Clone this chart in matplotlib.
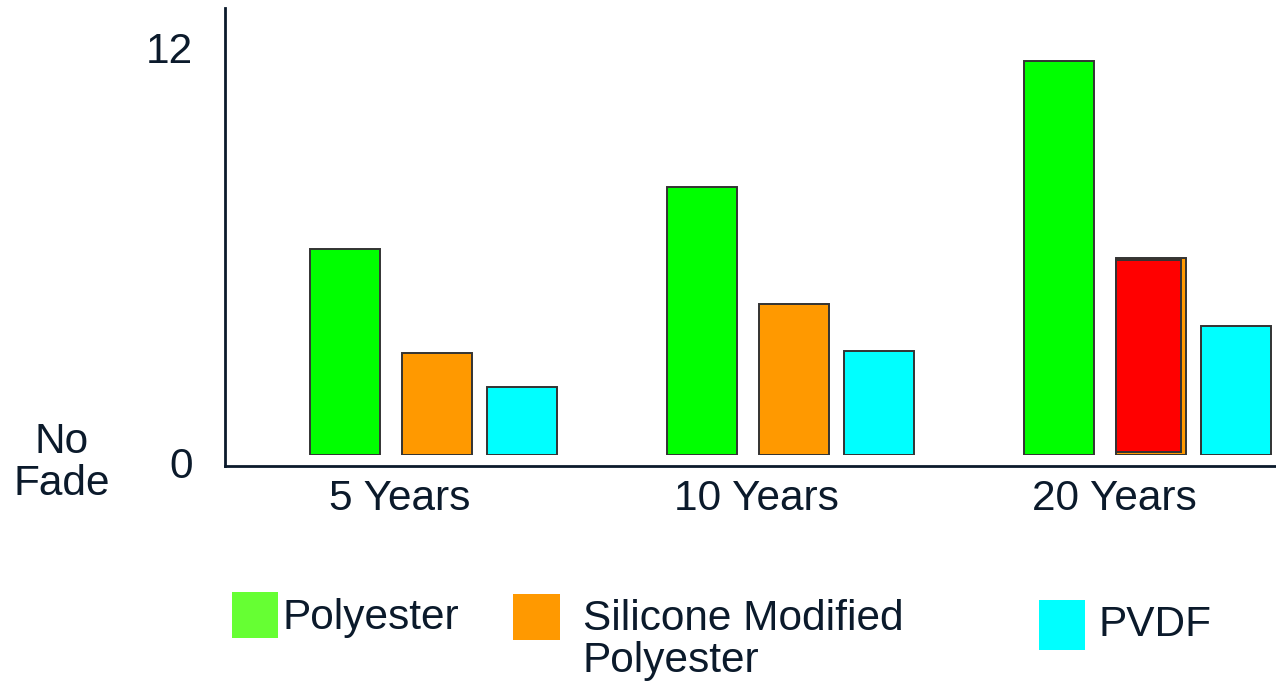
import matplotlib
matplotlib.use("Agg")
import matplotlib.pyplot as plt
from matplotlib.patches import Rectangle
from matplotlib.transforms import ScaledTranslation

# fade ratings after exposure, by coating type
periods = ["5 Years", "10 Years", "20 Years"]
polyester = [6.05, 7.9, 11.6]
silicone = [3.0, 4.45, 5.8]
pvdf = [2.0, 3.05, 3.8]
# red marker drawn over the 20 year silicone bar
red_bottom = 0.1
red_top = 5.75

series_names = ["Polyester", "Silicone Modified\nPolyester", "PVDF"]
bar_colors = ["#00ff00", "#ff9900", "#00ffff"]
key_colors = ["#66ff33", "#ff9900", "#00ffff"]

ink = "#0b1a2b"
fs = 30.5
plt.rcParams['font.family'] = ['Liberation Sans', 'DejaVu Sans']

W, H = 1276, 684
fig = plt.figure(figsize=(W / 100, H / 100), dpi=100)
ax = fig.add_axes([225 / W, (H - 466) / H, (W - 225) / W, (466 - 8) / H])

x = list(range(len(periods)))
width = 0.196
offsets = [-0.155, 0.105, 0.343]
for vals, off, col in zip([polyester, silicone, pvdf], offsets, bar_colors):
    ax.bar([i + off for i in x], vals, width=width, color=col,
           edgecolor="#333333", linewidth=1.4, zorder=2)

# red overlay on the last silicone bar
ax.bar(x[-1] + offsets[1] - width / 2, red_top - red_bottom, bottom=red_bottom,
       width=0.182, align="edge", color="#ff0000", edgecolor="#333333",
       linewidth=1.4, zorder=3)

# hide the bottom edges of the bars
ax.axhspan(-0.5, 0.0, color="white", zorder=4, linewidth=0)

ax.set_xlim(-0.49, 2.454)
ax.set_ylim(-0.32, 13.15)

for s in ["top", "right"]:
    ax.spines[s].set_visible(False)
for s in ["left", "bottom"]:
    ax.spines[s].set_color(ink)
    ax.spines[s].set_linewidth(2)
    ax.spines[s].set_zorder(5)

ax.set_yticks([0, 12])
ax.set_yticklabels(["0", "12"])
ax.tick_params(axis="y", length=0, pad=23, labelsize=fs, labelcolor=ink)
lab0 = ax.get_yticklabels()[0]
lab0.set_transform(lab0.get_transform() + ScaledTranslation(0, -0.07, fig.dpi_scale_trans))

ax.set_xticks(x)
ax.set_xticklabels(periods)
ax.tick_params(axis="x", length=0, pad=9, labelsize=fs, labelcolor=ink)

fig.text(62 / W, 1 - 463 / H, "No\nFade", ha="center", va="center",
         fontsize=fs, color=ink, linespacing=1.07)

# legend keys laid out by hand
key_boxes = [(232, 592, 46, 46), (513, 594, 47, 46), (1039, 600, 46, 50)]
text_pos = [(282, 618), (583, 640), (1098, 625)]
for (kx, ky, kw, kh), (tx, ty), name, col in zip(key_boxes, text_pos, series_names, key_colors):
    fig.add_artist(Rectangle((kx / W, 1 - (ky + kh) / H), kw / W, kh / H,
                             transform=fig.transFigure, color=col, linewidth=0))
    fig.text(tx / W, 1 - ty / H, name, ha="left", va="center",
             fontsize=fs, color=ink, linespacing=1.07)

fig.savefig("out.png", dpi=100, facecolor="white")
